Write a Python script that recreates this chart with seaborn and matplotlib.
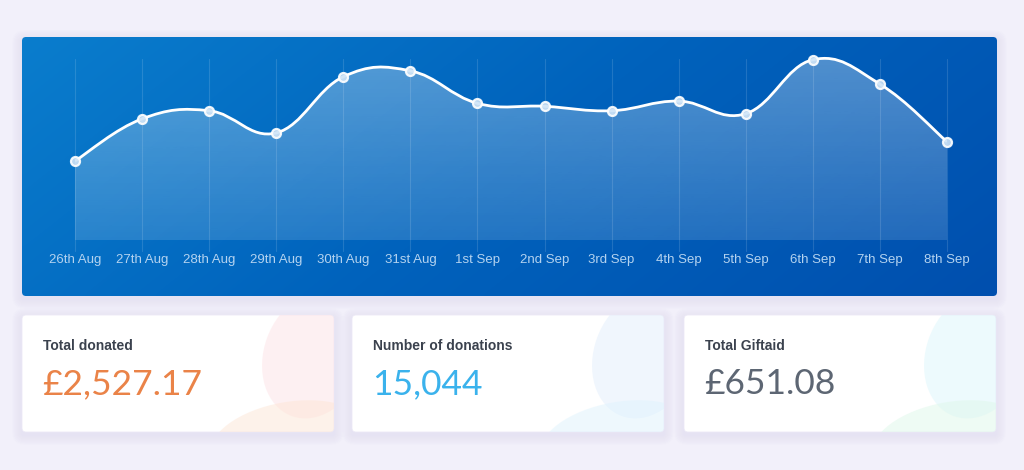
import numpy as np
import pandas as pd
import matplotlib
matplotlib.use("Agg")
import matplotlib.pyplot as plt
import seaborn as sns
from matplotlib.patches import FancyBboxPatch, PathPatch, Ellipse
from matplotlib.path import Path
from matplotlib.colors import LinearSegmentedColormap

# Daily donations (GBP)
dates = ['26th Aug', '27th Aug', '28th Aug', '29th Aug', '30th Aug', '31st Aug', '1st Sep',
         '2nd Sep', '3rd Sep', '4th Sep', '5th Sep', '6th Sep', '7th Sep', '8th Sep']
donated = [107, 164, 175, 145, 221, 229, 185, 181, 175, 188, 171, 244, 211, 133]

# Summary cards
card_titles = ['Total donated', 'Number of donations', 'Total Giftaid']
card_values = ['£2,527.17', '15,044', '£651.08']
card_colors = ['#ea8348', '#3ab2ec', '#5d6673']
card_blobs = [['#fde3e6', '#fde6d6'], ['#e2eefc', '#dff3fd'], ['#dcf6fc', '#def8ea']]

df = pd.DataFrame({'date': dates, 'x': np.arange(len(dates)), 'amount': donated})

sns.set_theme(style='white')
plt.rcParams['font.family'] = ['Liberation Sans', 'DejaVu Sans']

W, H = 1024, 470
fig = plt.figure(figsize=(W / 100, H / 100), dpi=100)
fig.patch.set_facecolor('#f2f0fa')

# background canvas in pixel coordinates
bg = fig.add_axes([0, 0, 1, 1])
bg.set_xlim(0, W)
bg.set_ylim(H, 0)
bg.axis('off')


def shadow(ax, x0, y0, w, h, r, color='#dcd7f3'):
    for i in range(10, 0, -1):
        p = FancyBboxPatch((x0 - i, y0 - i + 3), w + 2 * i, h + 2 * i,
                           boxstyle=f'round,pad=0,rounding_size={r + i}',
                           fc=color, ec='none', alpha=0.05, zorder=1)
        ax.add_patch(p)


# blue chart panel
px0, py0, pw, ph = 22, 37, 975, 259
shadow(bg, px0, py0, pw, ph, 4)
panel = FancyBboxPatch((px0, py0), pw, ph, boxstyle='round,pad=0,rounding_size=4',
                       fc='none', ec='none', zorder=2)
bg.add_patch(panel)
gx, gy = np.meshgrid(np.linspace(0, 1, 200), np.linspace(0, 1, 60))
grad = 0.75 * gx + 0.25 * gy
blue_cmap = LinearSegmentedColormap.from_list('panel', ['#0a7dcd', '#0062bc', '#004fae'])
im = bg.imshow(grad, cmap=blue_cmap, extent=[px0, px0 + pw, py0 + ph, py0],
               aspect='auto', zorder=2, interpolation='bicubic')
im.set_clip_path(panel)

# cards
cx = [22, 352, 684]
cw, cy, ch = 312, 315, 117
for i in range(3):
    shadow(bg, cx[i], cy, cw, ch, 4)
    card = FancyBboxPatch((cx[i], cy), cw, ch, boxstyle='round,pad=0,rounding_size=4',
                          fc='white', ec='#ece9f6', lw=0.6, zorder=2)
    bg.add_patch(card)
    b1 = Ellipse((cx[i] + cw - 20, cy + 40), 100, 130, angle=20,
                 fc=card_blobs[i][0], ec='none', alpha=0.5, zorder=3)
    b2 = Ellipse((cx[i] + cw - 45, cy + ch + 10), 160, 80, angle=-10,
                 fc=card_blobs[i][1], ec='none', alpha=0.5, zorder=3)
    for b in (b1, b2):
        bg.add_patch(b)
        b.set_clip_path(card)
    bg.text(cx[i] + 21, cy + 31, card_titles[i], fontsize=10, fontweight='bold',
            color='#3b424e', va='center', ha='left', zorder=4)
    bg.text(cx[i] + 20, cy + 69, card_values[i], fontsize=25.5, color=card_colors[i],
            family=['Lato', 'DejaVu Sans'],
            va='center', ha='left', zorder=4)

# line chart axes (a little headroom above the top point for the curve overshoot)
ymax_grid, ymax_ax = 245, 253
x_left, x_right = 75, 947
y_base = 240
px_per_unit = (240 - 59) / ymax_grid
y_top = y_base - ymax_ax * px_per_unit
ax = fig.add_axes([x_left / W, (H - y_base) / H, (x_right - x_left) / W, (y_base - y_top) / H])
ax.patch.set_alpha(0)
ax.set_xlim(0, len(dates) - 1)
ax.set_ylim(0, ymax_ax)

for x in df['x']:
    ax.axvline(x, ymin=-0.06, ymax=ymax_grid / ymax_ax, color='white', alpha=0.13, lw=0.8,
               clip_on=False)

# smooth curve through the points (cardinal spline as cubic Bezier segments)
xs = df['x'].to_numpy(float)
ys = df['amount'].to_numpy(float)
t = 0.2
verts = [(xs[0], ys[0])]
codes = [Path.MOVETO]
for i in range(len(xs) - 1):
    p0 = i - 1 if i > 0 else i
    p3 = i + 2 if i + 2 < len(xs) else i + 1
    c1 = (xs[i] + (xs[i + 1] - xs[p0]) * t, ys[i] + (ys[i + 1] - ys[p0]) * t)
    c2 = (xs[i + 1] - (xs[p3] - xs[i]) * t, ys[i + 1] - (ys[p3] - ys[i]) * t)
    verts += [c1, c2, (xs[i + 1], ys[i + 1])]
    codes += [Path.CURVE4] * 3

fill_path = Path(verts + [(xs[-1], 0), (xs[0], 0), (xs[0], ys[0])],
                 codes + [Path.LINETO, Path.LINETO, Path.LINETO])
fill_patch = PathPatch(fill_path, fc='none', ec='none')
ax.add_patch(fill_patch)
fade = np.linspace(0.14, 0.32, 100).reshape(-1, 1)
white_cmap = LinearSegmentedColormap.from_list('fade', [(1, 1, 1, 0.0), (1, 1, 1, 1.0)])
fim = ax.imshow(fade, cmap=white_cmap, vmin=0, vmax=1, extent=[0, 13, 0, ymax_ax],
                origin='lower', aspect='auto', zorder=1)
fim.set_clip_path(fill_patch)

ax.add_patch(PathPatch(Path(verts, codes), fc='none', ec='white', lw=2, zorder=3))
sns.scatterplot(data=df, x='x', y='amount', ax=ax, s=42, color='#cfe4f7', alpha=0.9,
                edgecolor='white', linewidth=1.6, zorder=4, clip_on=False, legend=False)

ax.set_xticks(df['x'])
ax.set_xticklabels(dates, fontsize=9.5, color='#b4d3f0')
ax.tick_params(axis='x', length=0, pad=10)
ax.set_yticks([])
ax.set_xlabel('')
ax.set_ylabel('')
sns.despine(ax=ax, left=True, bottom=True)
ax.grid(False)

fig.savefig('out.png', dpi=100, facecolor=fig.get_facecolor())
